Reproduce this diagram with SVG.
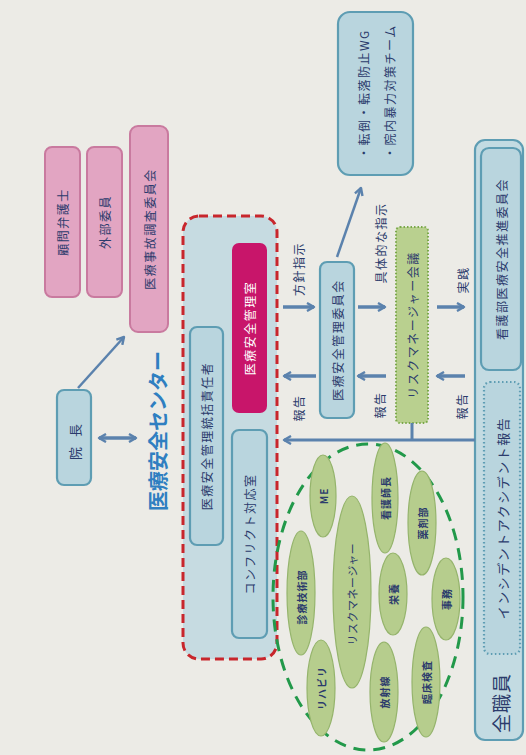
<svg xmlns="http://www.w3.org/2000/svg" width="526" height="755" viewBox="0 0 526 755">
<defs>
<style>
.t{font-family:"Noto Sans CJK JP","Noto Sans",sans-serif;font-size:12px;fill:#2b3b6c;text-anchor:middle;dominant-baseline:central;letter-spacing:1.5px}
.s{font-size:10px;font-weight:bold;letter-spacing:1px}
.pink{fill:#e2a5c2;stroke:#c97a9f;stroke-width:2}
.blue{fill:#b9d5de;stroke:#5e9db3;stroke-width:2.2}
.gel{fill:#b6cd8d;stroke:#95b46c;stroke-width:1.2}
.arr{fill:none;stroke:#5b82ad;stroke-width:3.5}
</style>
<marker id="ah" viewBox="0 0 10 10" refX="8" refY="5" markerWidth="10" markerHeight="10" markerUnits="userSpaceOnUse" orient="auto-start-reverse">
<path d="M1,1 L8,5 L1,9" fill="none" stroke="#5b82ad" stroke-width="2.4" stroke-linejoin="round"/>
</marker>
</defs>
<rect width="526" height="755" fill="#ecebe6"/>

<g id="komon"><rect class="pink" x="45" y="147" width="35" height="150" rx="7"/><text class="t" x="62.5" y="222" transform="rotate(-90 62.5 222)">顧問弁護士</text></g>
<g id="gaibu"><rect class="pink" x="87" y="147" width="35" height="150" rx="7"/><text class="t" x="104.5" y="222" transform="rotate(-90 104.5 222)">外部委員</text></g>
<g id="jiko"><rect class="pink" x="130" y="126" width="38" height="206" rx="8"/><text class="t" x="149" y="229" transform="rotate(-90 149 229)">医療事故調査委員会</text></g>
<g id="incho"><rect class="blue" x="57" y="390" width="34" height="95" rx="7"/><text class="t" x="74" y="437" style="font-size:13px;letter-spacing:10px" transform="rotate(-90 74 437)">院長</text></g>

<g id="center">
<text x="157" y="431" transform="rotate(-90 157 431)" style="font-family:'Noto Sans CJK JP',sans-serif;font-size:20px;font-weight:bold;fill:#2f7fc1;text-anchor:middle;dominant-baseline:central">医療安全センター</text>
<rect x="183" y="216" width="94" height="443" rx="16" fill="#c6dbe1" stroke="#c8262c" stroke-width="3" stroke-dasharray="9 5"/>
<g id="kanrishitsu"><rect x="232" y="243" width="35" height="170" rx="7" fill="#c8156a"/><text class="t" x="249.5" y="328" style="fill:#fff" transform="rotate(-90 249.5 328)">医療安全管理室</text></g>
<g id="tokatsu"><rect class="blue" x="190" y="327" width="33" height="218" rx="7"/><text class="t" x="206.5" y="436" transform="rotate(-90 206.5 436)">医療安全管理統括責任者</text></g>
<g id="conflict"><rect class="blue" x="232" y="430" width="35" height="208" rx="7"/><text class="t" x="249.5" y="534" transform="rotate(-90 249.5 534)">コンフリクト対応室</text></g>
</g>

<g id="iinkai"><rect class="blue" x="320" y="262" width="34" height="156" rx="7"/><text class="t" x="337" y="340" transform="rotate(-90 337 340)">医療安全管理委員会</text></g>

<g id="wg"><rect class="blue" x="338" y="12" width="75" height="163" rx="12"/>
<text class="t" x="363" y="159" style="text-anchor:start" transform="rotate(-90 363 159)">・転倒・転落防止WG</text>
<text class="t" x="389" y="159" style="text-anchor:start" transform="rotate(-90 389 159)">・院内暴力対策チーム</text></g>

<g id="rmkaigi"><rect x="396" y="227" width="32" height="196" rx="4" fill="#b9d08f" stroke="#7aa84a" stroke-width="2" stroke-dasharray="1.5 2"/><text class="t" x="412" y="325" transform="rotate(-90 412 325)">リスクマネージャー会議</text></g>

<g id="zenshokuin"><rect class="blue" x="475" y="140" width="48" height="600" rx="10" style="fill:#c3dbe2"/>
<text class="t" x="500" y="703" style="font-size:19px;letter-spacing:1px" transform="rotate(-90 500 703)">全職員</text></g>
<g id="kangobu"><rect class="blue" x="481" y="148" width="40" height="222" rx="8"/><text class="t" x="501" y="259" transform="rotate(-90 501 259)">看護部医療安全推進委員会</text></g>
<g id="incident"><rect x="484" y="382" width="36" height="272" rx="6" fill="#b9d5de" stroke="#5e9db3" stroke-width="2.2" stroke-dasharray="1.5 2.5"/><text class="t" x="502" y="518" style="font-size:13px" transform="rotate(-90 502 518)">インシデントアクシデント報告</text></g>

<g id="rmgroup">
<ellipse cx="368" cy="597" rx="95" ry="153" fill="none" stroke="#22994a" stroke-width="3" stroke-dasharray="12 8"/>
<g id="me"><ellipse class="gel" cx="323" cy="496" rx="13" ry="41"/><text class="t s" x="323" y="496" transform="rotate(-90 323 496)">ME</text></g>
<g id="kangoshicho"><ellipse class="gel" cx="385" cy="498" rx="13" ry="55"/><text class="t s" x="385" y="498" transform="rotate(-90 385 498)">看護師長</text></g>
<g id="yakuzai"><ellipse class="gel" cx="422" cy="523" rx="14" ry="52"/><text class="t s" x="422" y="523" transform="rotate(-90 422 523)">薬剤部</text></g>
<g id="shinryo"><ellipse class="gel" cx="301" cy="593" rx="14" ry="62"/><text class="t s" x="301" y="597" transform="rotate(-90 301 597)">診療技術部</text></g>
<g id="rm"><ellipse class="gel" cx="352" cy="592" rx="19" ry="96"/><text class="t" x="352" y="594" style="font-size:11px;letter-spacing:0.5px" transform="rotate(-90 352 594)">リスクマネージャー</text></g>
<g id="eiyo"><ellipse class="gel" cx="393" cy="594" rx="14" ry="41"/><text class="t s" x="393" y="594" transform="rotate(-90 393 594)">栄養</text></g>
<g id="jimu"><ellipse class="gel" cx="446" cy="599" rx="14" ry="41"/><text class="t s" x="446" y="599" transform="rotate(-90 446 599)">事務</text></g>
<g id="reha"><ellipse class="gel" cx="321" cy="688" rx="14" ry="48"/><text class="t s" x="321" y="688" transform="rotate(-90 321 688)">リハビリ</text></g>
<g id="hoshasen"><ellipse class="gel" cx="384" cy="692" rx="14" ry="50"/><text class="t s" x="384" y="692" transform="rotate(-90 384 692)">放射線</text></g>
<g id="rinsho"><ellipse class="gel" cx="426" cy="682" rx="14" ry="55"/><text class="t s" x="426" y="682" transform="rotate(-90 426 682)">臨床検査</text></g>
</g>

<g id="connectors">
<line class="arr" x1="99" y1="438" x2="136" y2="438" marker-start="url(#ah)" marker-end="url(#ah)"/>
<line class="arr" style="stroke-width:2.5" x1="78" y1="388" x2="124" y2="337" marker-end="url(#ah)"/>
<line class="arr" x1="283" y1="307" x2="314" y2="307" marker-end="url(#ah)"/>
<line class="arr" x1="316" y1="376" x2="284" y2="376" marker-end="url(#ah)"/>
<line class="arr" x1="358" y1="307" x2="385" y2="307" marker-end="url(#ah)"/>
<line class="arr" x1="386" y1="376" x2="358" y2="376" marker-end="url(#ah)"/>
<line class="arr" x1="437" y1="307" x2="464" y2="307" marker-end="url(#ah)"/>
<line class="arr" x1="465" y1="376" x2="437" y2="376" marker-end="url(#ah)"/>
<line class="arr" style="stroke-width:2.5" x1="337" y1="257" x2="361" y2="188" marker-end="url(#ah)"/>
<polyline class="arr" style="stroke-width:3" points="475,440 284,440" marker-end="url(#ah)"/>
<line class="arr" style="stroke-width:3" x1="412" y1="423" x2="412" y2="440"/>
<text class="t" x="298" y="269" transform="rotate(-90 298 269)">方針指示</text>
<text class="t" x="298" y="408" transform="rotate(-90 298 408)">報告</text>
<text class="t" x="380" y="243" transform="rotate(-90 380 243)">具体的な指示</text>
<text class="t" x="379" y="405" transform="rotate(-90 379 405)">報告</text>
<text class="t" x="462" y="280" transform="rotate(-90 462 280)">実践</text>
<text class="t" x="461" y="406" transform="rotate(-90 461 406)">報告</text>
</g>
</svg>
